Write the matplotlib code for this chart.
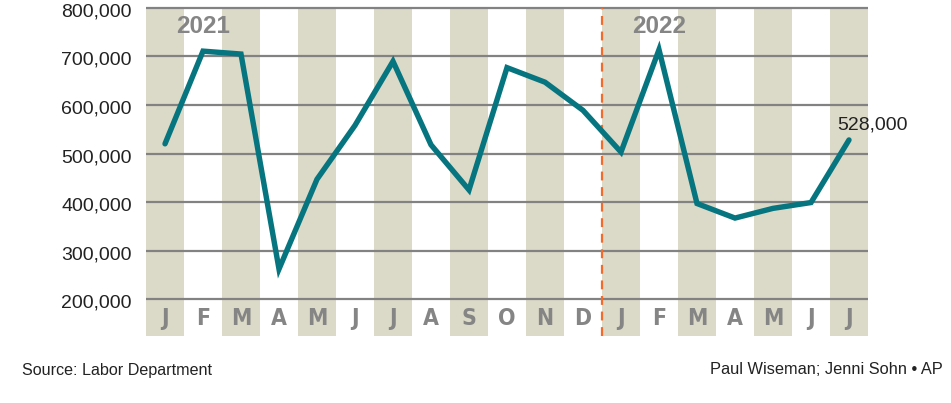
import matplotlib
matplotlib.use("Agg")
import matplotlib.pyplot as plt
from matplotlib.transforms import ScaledTranslation, blended_transform_factory

months = ["J", "F", "M", "A", "M", "J", "J", "A", "S", "O", "N", "D",
          "J", "F", "M", "A", "M", "J", "J"]
jobs = [520000, 711000, 705000, 262000, 447000, 558000, 690000, 518000, 425000,
        677000, 647000, 589000, 503000, 714000, 397000, 367000, 387000, 399000, 528000]
yticks = [200000, 300000, 400000, 500000, 600000, 700000, 800000]
ytick_labels = ["200,000", "300,000", "400,000", "500,000", "600,000", "700,000", "800,000"]
years = ["2021", "2022"]
year_pos = [1, 13]

W, H = 951, 403
fig = plt.figure(figsize=(W / 100, H / 100), dpi=100)
ax = fig.add_axes([146 / W, 1 - 336 / H, (868 - 146) / W, (336 - 6) / H])

ybot = 124000
ytop = 800000
ax.set_xlim(-0.5, len(months) - 0.5)
ax.set_ylim(ybot, 804000)

x = list(range(len(months)))
stripe_x = [i for i in x if i % 2 == 0]
ax.bar(stripe_x, [ytop - ybot] * len(stripe_x), bottom=ybot, width=1.0,
       color="#dbdac8", zorder=0, linewidth=0)

for yv in yticks:
    ax.axhline(yv, color="#828282", lw=1.6, zorder=1)

ax.axvline(11.5, ymin=0, ymax=(ytop - ybot) / (804000 - ybot), color="#f26b2b",
           lw=1.6, dashes=(4, 3), zorder=2)

ax.plot(x, jobs, color="#06757f", lw=3.9, zorder=3, solid_joinstyle="miter",
        solid_capstyle="round")

for i, m in enumerate(months):
    ax.text(i, 161000, m, ha="center", va="center", fontsize=16.5, fontweight="bold",
            fontstretch="condensed", color="#858585", family="DejaVu Sans", zorder=4)

for yr, p in zip(years, year_pos):
    ax.text(p, 762000, yr, ha="center", va="center", fontsize=17.5, fontweight="bold",
            color="#858585", family=["Liberation Sans", "DejaVu Sans"], zorder=4)

ax.text(len(months) - 1 - 0.3, jobs[-1] + 31000, "528,000", ha="left", va="center",
        fontsize=14, color="#222222", family=["Liberation Sans", "DejaVu Sans"], zorder=4)

# y tick labels, drawn slightly below their gridlines as in the reference
ax.set_yticks(yticks)
ax.set_yticklabels([])
ax.tick_params(axis="y", length=0)
ylab_tr = blended_transform_factory(ax.transAxes, ax.transData) + \
    ScaledTranslation(-14 / 100, -4 / 100, fig.dpi_scale_trans)
for yv, lab in zip(yticks, ytick_labels):
    ax.text(0, yv, lab, transform=ylab_tr, ha="right", va="center", fontsize=14,
            color="#222222", family=["Liberation Sans", "DejaVu Sans"], clip_on=False)

ax.set_xticks([])
for s in ax.spines.values():
    s.set_visible(False)

fig.text(22 / W, 1 - 370 / H, "Source: Labor Department", ha="left", va="center",
         fontsize=11.6, color="#222222", family=["Liberation Sans", "DejaVu Sans"])
fig.text(943 / W, 1 - 370 / H, "Paul Wiseman; Jenni Sohn \u2022 AP", ha="right", va="center",
         fontsize=11.8, color="#222222", family=["Liberation Sans", "DejaVu Sans"])

fig.savefig("out.png", dpi=100)
